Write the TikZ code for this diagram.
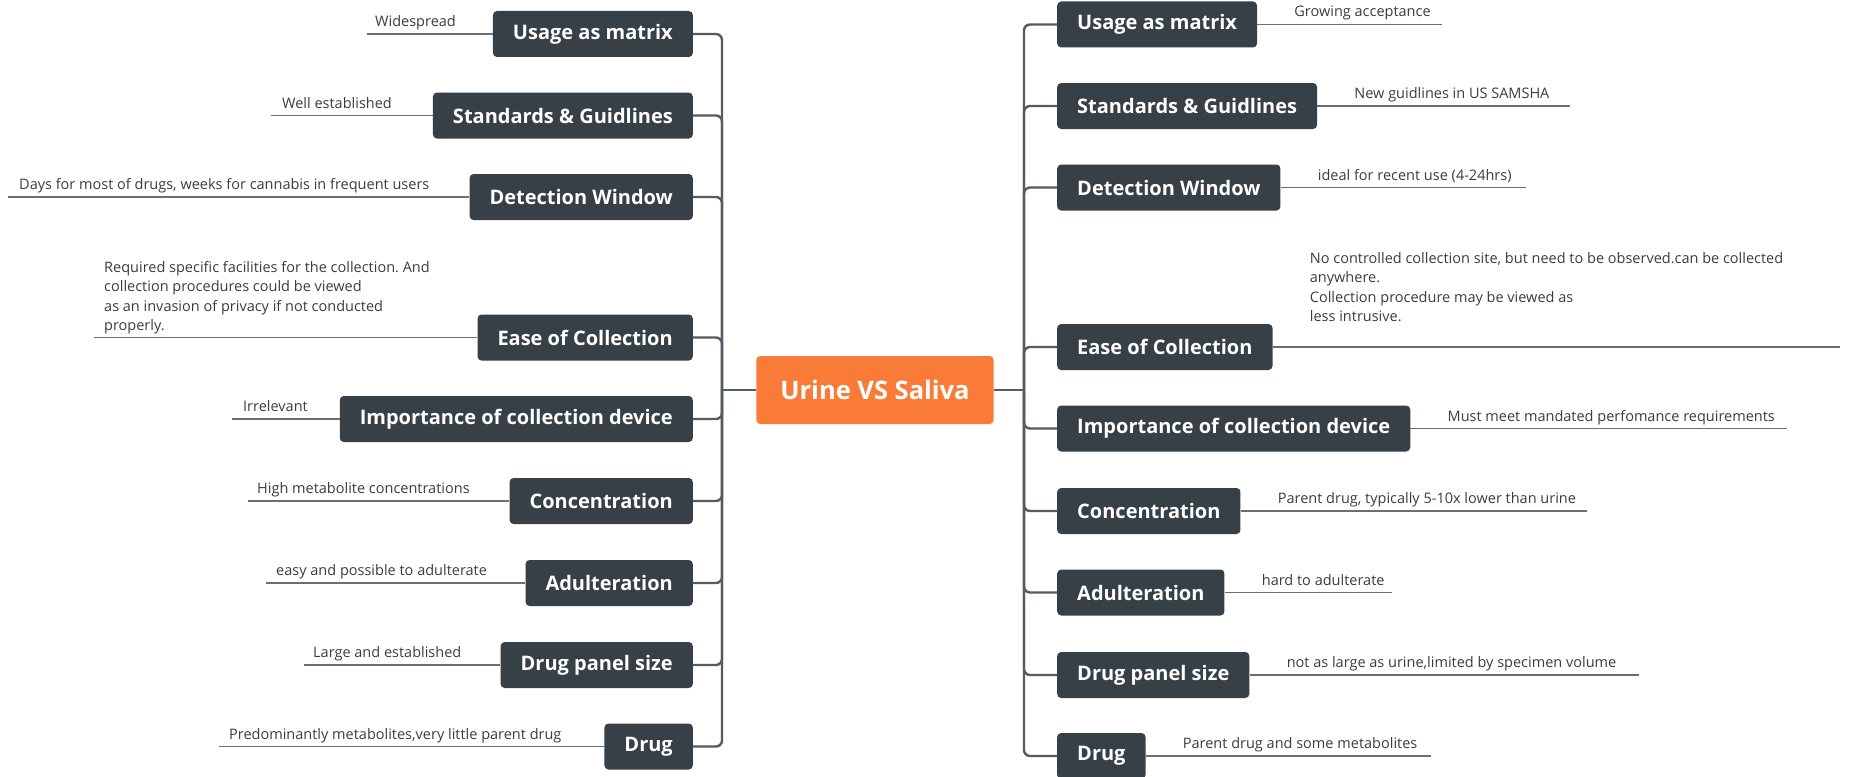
\documentclass[tikz,border=0pt]{standalone}
\usepackage{fontspec}
\setmainfont{Open Sans}
\usepackage{tikz}
\usetikzlibrary{positioning,calc}
\definecolor{rootorange}{RGB}{250,122,56}
\definecolor{topicgray}{RGB}{55,63,71}
\definecolor{branchgray}{RGB}{85,91,98}
\definecolor{leafgray}{RGB}{110,110,110}
\definecolor{notegray}{RGB}{60,60,60}
\frenchspacing

\begin{document}
\begin{tikzpicture}[
x=1pt,y=-1pt,
centre/.style={fill=rootorange,text=white,rounded corners=4pt,minimum height=68pt,inner xsep=24pt,font=\fontsize{25.5}{30}\selectfont\bfseries},
topic/.style={fill=topicgray,text=white,rounded corners=4pt,minimum height=46pt,inner xsep=20pt,font=\fontsize{20}{24}\selectfont\bfseries},
note/.style={text=notegray,inner sep=0pt,align=left,font=\fontsize{14.5}{19.5}\selectfont},
branch/.style={draw=branchgray,line width=2.4pt,rounded corners=6pt},
twig/.style={draw=leafgray,line width=1.3pt}]
    \useasboundingbox (0,0) rectangle (1851,776);

    % Central topic
    \node[centre] (root) at (875,390) {Urine VS Saliva};
    \draw
      (722,390) coordinate (ljoin)
      (1024,390) coordinate (rjoin);
    \draw[branch] (root.west) -- (ljoin);
    \draw[branch] (root.east) -- (rjoin);

    % Urine side
    \node[topic,anchor=east] (lusage)  at (693,34)    {Usage as matrix};
    \node[topic,anchor=east] (lstd)    at (693,115.5) {Standards \& Guidlines};
    \node[topic,anchor=east] (ldetect) at (693,197)   {Detection Window};
    \node[topic,anchor=east] (lease)   at (693,337.5) {Ease of Collection};
    \node[topic,anchor=east] (limport) at (693,419)   {Importance of collection device};
    \node[topic,anchor=east] (lconc)   at (693,501)   {Concentration};
    \node[topic,anchor=east] (ladult)  at (693,583)   {Adulteration};
    \node[topic,anchor=east] (lpanel)  at (693,665)   {Drug panel size};
    \node[topic,anchor=east] (ldrug)   at (693,746.5) {Drug};

    \foreach \t in {lusage,lstd,ldetect,lease,limport,lconc,ladult,lpanel,ldrug}
        \draw[branch] (ljoin) |- (\t.east);

    \node[note,anchor=base west] (nlusage)  at (375,26.5)  {Widespread};
    \node[note,anchor=base west] (nlstd)    at (282,108)   {Well established};
    \node[note,anchor=base west] (nldetect) at (19,189.5)  {Days for most of drugs, weeks for cannabis in frequent users};
    \node[note,anchor=north west] (nlease)  at (104,261)   {Required specific facilities for the collection. And\\collection procedures could be viewed\\as an invasion of privacy if not conducted\\properly.};
    \node[note,anchor=base west] (nlimport) at (243,411.5) {Irrelevant};
    \node[note,anchor=base west] (nlconc)   at (257,493.5) {High metabolite concentrations};
    \node[note,anchor=base west] (nladult)  at (276,575.5) {easy and possible to adulterate};
    \node[note,anchor=base west] (nlpanel)  at (313,657.5) {Large and established};
    \node[note,anchor=base west] (nldrug)   at (229,739)   {Predominantly metabolites,very little parent drug};

    \draw[twig] (lusage.west)  -- (367,34)    coordinate (elusage);
    \draw[twig] (lstd.west)    -- (271,115.5) coordinate (elstd);
    \draw[twig] (ldetect.west) -- (8,197)     coordinate (eldetect);
    \draw[twig] (lease.west)   -- (94,337.5)  coordinate (elease);
    \draw[twig] (limport.west) -- (232,419)   coordinate (elimport);
    \draw[twig] (lconc.west)   -- (248,501)   coordinate (elconc);
    \draw[twig] (ladult.west)  -- (266,583)   coordinate (eladult);
    \draw[twig] (lpanel.west)  -- (304,665)   coordinate (elpanel);
    \draw[twig] (ldrug.west)   -- (219,746.5) coordinate (eldrug);

    % Saliva side
    \node[topic,anchor=west] (rusage)  at (1057,24.5)  {Usage as matrix};
    \node[topic,anchor=west] (rstd)    at (1057,106)   {Standards \& Guidlines};
    \node[topic,anchor=west] (rdetect) at (1057,187.5) {Detection Window};
    \node[topic,anchor=west] (rease)   at (1057,347)   {Ease of Collection};
    \node[topic,anchor=west] (rimport) at (1057,428.5) {Importance of collection device};
    \node[topic,anchor=west] (rconc)   at (1057,511)   {Concentration};
    \node[topic,anchor=west] (radult)  at (1057,592.5) {Adulteration};
    \node[topic,anchor=west] (rpanel)  at (1057,675)   {Drug panel size};
    \node[topic,anchor=west] (rdrug)   at (1057,756)   {Drug};

    \foreach \t in {rusage,rstd,rdetect,rease,rimport,rconc,radult,rpanel,rdrug}
        \draw[branch] (rjoin) |- (\t.west);

    \node[note,anchor=base west] (nrusage)  at ([shift={(37pt,7.5pt)}]rusage.east)  {Growing acceptance};
    \node[note,anchor=base west] (nrstd)    at ([shift={(37pt,7.5pt)}]rstd.east)    {New guidlines in US SAMSHA};
    \node[note,anchor=base west] (nrdetect) at ([shift={(37pt,7.5pt)}]rdetect.east) {ideal for recent use (4-24hrs)};
    \node[note,anchor=north west] (nrease)  at ([shift={(37pt,95pt)}]rease.east)    {No controlled collection site, but need to be observed.can be collected\\anywhere.\\Collection procedure may be viewed as\\less intrusive.};
    \node[note,anchor=base west] (nrimport) at ([shift={(37pt,7.5pt)}]rimport.east) {Must meet mandated perfomance requirements};
    \node[note,anchor=base west] (nrconc)   at ([shift={(37pt,7.5pt)}]rconc.east)   {Parent drug, typically 5-10x lower than urine};
    \node[note,anchor=base west] (nradult)  at ([shift={(37pt,7.5pt)}]radult.east)  {hard to adulterate};
    \node[note,anchor=base west] (nrpanel)  at ([shift={(37pt,7.5pt)}]rpanel.east)  {not as large as urine,limited by specimen volume};
    \node[note,anchor=base west] (nrdrug)   at ([shift={(37pt,7.5pt)}]rdrug.east)   {Parent drug and some metabolites};

    \draw[twig] (rusage.east)  -- (1442,24.5)  coordinate (erusage);
    \draw[twig] (rstd.east)    -- (1570,106)   coordinate (erstd);
    \draw[twig] (rdetect.east) -- (1526,187.5) coordinate (erdetect);
    \draw[twig] (rease.east)   -- (1840,347)   coordinate (erease);
    \draw[twig] (rimport.east) -- (1787,428.5) coordinate (erimport);
    \draw[twig] (rconc.east)   -- (1587,511)   coordinate (erconc);
    \draw[twig] (radult.east)  -- (1392,592.5) coordinate (eradult);
    \draw[twig] (rpanel.east)  -- (1639,675)   coordinate (erpanel);
    \draw[twig] (rdrug.east)   -- (1431,756)   coordinate (erdrug);
\end{tikzpicture}
\end{document}
